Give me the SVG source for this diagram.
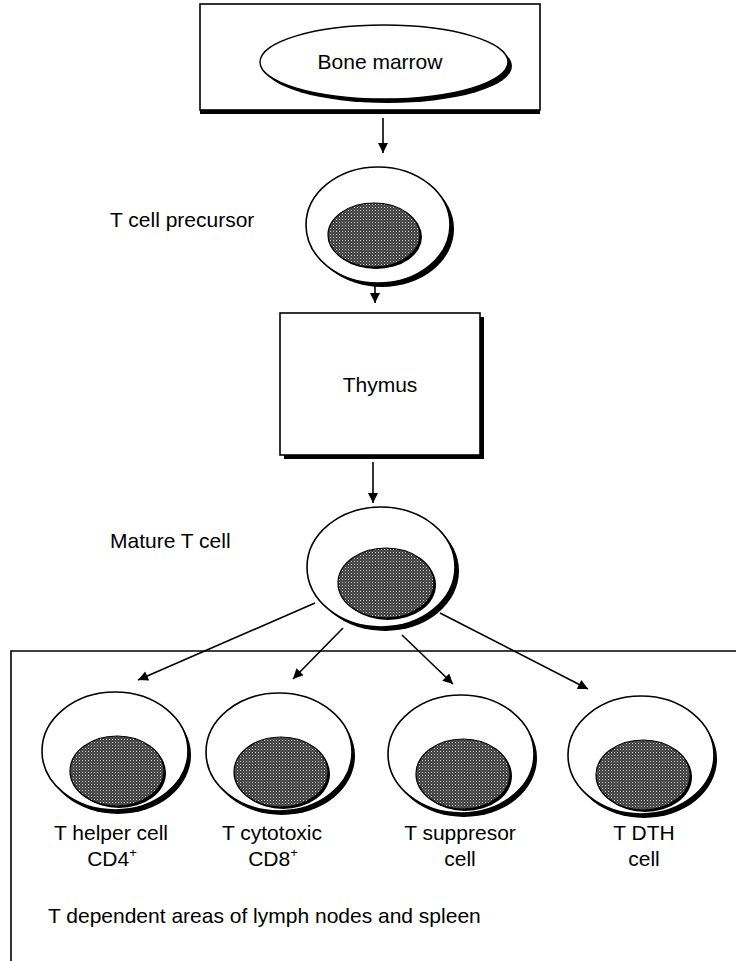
<svg xmlns="http://www.w3.org/2000/svg" width="736" height="961" viewBox="0 0 736 961">
  <defs>
    <!-- stippled fill for nuclei -->
    <pattern id="stipple" width="3" height="3" patternUnits="userSpaceOnUse">
      <rect width="3" height="3" fill="#3a3a3a"/>
      <rect x="0" y="0" width="1" height="1" fill="#d8d8d8"/>
      <rect x="1.5" y="1.5" width="1" height="1" fill="#9a9a9a"/>
    </pattern>
    <marker id="arrow" viewBox="0 0 10 10" refX="10" refY="5" markerWidth="14" markerHeight="10" markerUnits="userSpaceOnUse" orient="auto">
      <path d="M0,0 L10,5 L0,10 Z" fill="#000"/>
    </marker>
    <!-- reusable cell: outer body with drop shadow, nucleus with shadow -->
    <g id="cell">
      <ellipse cx="3" cy="4" rx="73" ry="59" fill="#000"/>
      <ellipse cx="0" cy="0" rx="73" ry="59" fill="#fff" stroke="#000" stroke-width="1.6"/>
      <ellipse cx="4" cy="22" rx="47" ry="35" fill="#000"/>
      <ellipse cx="2" cy="20" rx="47" ry="35" fill="url(#stipple)" stroke="#000" stroke-width="1.2"/>
    </g>
  </defs>
  <style>
    text { font-family: "Liberation Sans", Arial, sans-serif; font-size: 21px; fill: #000; }
    .c { text-anchor: middle; }
    .sup { font-size: 13px; }
    .conn line { stroke: #000; stroke-width: 1.6; marker-end: url(#arrow); }
  </style>

  <rect width="736" height="961" fill="#fff"/>

  <!-- Bone marrow box -->
  <g id="bone-marrow">
    <rect x="200" y="8" width="340" height="106" fill="#000"/>
    <rect x="200" y="4" width="340" height="106" fill="#fff" stroke="#000" stroke-width="1.6"/>
    <ellipse cx="388" cy="66" rx="124" ry="37" fill="#000"/>
    <ellipse cx="384" cy="62" rx="124" ry="37" fill="#fff" stroke="#000" stroke-width="1.4"/>
    <text class="c" x="380" y="69">Bone marrow</text>
  </g>

  <!-- T cell precursor -->
  <g id="t-cell-precursor">
    <ellipse cx="382" cy="229" rx="72" ry="58" fill="#000"/>
    <ellipse cx="378" cy="225" rx="72" ry="58" fill="#fff" stroke="#000" stroke-width="1.6"/>
    <ellipse cx="376" cy="237" rx="46" ry="32" fill="#000"/>
    <ellipse cx="374" cy="235" rx="46" ry="32" fill="url(#stipple)" stroke="#000" stroke-width="1.2"/>
    <text x="110" y="227">T cell precursor</text>
  </g>

  <!-- Thymus -->
  <g id="thymus">
    <rect x="284" y="317" width="200" height="142" fill="#000"/>
    <rect x="280" y="313" width="200" height="142" fill="#fff" stroke="#000" stroke-width="1.6"/>
    <text class="c" x="380" y="392">Thymus</text>
  </g>

  <!-- Mature T cell -->
  <g id="mature-t-cell">
    <ellipse cx="385" cy="571" rx="74" ry="60" fill="#000"/>
    <ellipse cx="381" cy="567" rx="74" ry="60" fill="#fff" stroke="#000" stroke-width="1.6"/>
    <ellipse cx="388" cy="585" rx="48" ry="35" fill="#000"/>
    <ellipse cx="386" cy="583" rx="48" ry="35" fill="url(#stipple)" stroke="#000" stroke-width="1.2"/>
    <text x="110" y="548">Mature T cell</text>
  </g>

  <!-- T dependent areas region -->
  <g id="lymph-region">
    <path d="M11,961 L11,651 L736,651" fill="none" stroke="#000" stroke-width="1.6"/>
    <text x="48" y="923">T dependent areas of lymph nodes and spleen</text>
  </g>

  <g id="t-helper">
    <use href="#cell" x="115" y="751"/>
    <text class="c" x="111" y="840">T helper cell</text>
    <text class="c" x="112" y="866">CD4<tspan class="sup" dy="-9">+</tspan></text>
  </g>
  <g id="t-cytotoxic">
    <use href="#cell" x="279" y="752"/>
    <text class="c" x="272" y="840">T cytotoxic</text>
    <text class="c" x="273" y="866">CD8<tspan class="sup" dy="-9">+</tspan></text>
  </g>
  <g id="t-suppresor">
    <use href="#cell" x="461" y="754"/>
    <text class="c" x="460" y="840">T suppresor</text>
    <text class="c" x="460" y="866">cell</text>
  </g>
  <g id="t-dth">
    <use href="#cell" x="641" y="755"/>
    <text class="c" x="644" y="840">T DTH</text>
    <text class="c" x="644" y="866">cell</text>
  </g>

  <!-- connectors -->
  <g id="connectors" class="conn">
    <line x1="383" y1="118" x2="383" y2="153"/>
    <line x1="375" y1="285" x2="375" y2="303"/>
    <line x1="373" y1="462" x2="373" y2="503"/>
    <line x1="315" y1="603" x2="138" y2="680"/>
    <line x1="343" y1="628" x2="293" y2="679"/>
    <line x1="402" y1="635" x2="453" y2="684"/>
    <line x1="440" y1="613" x2="588" y2="689"/>
  </g>
</svg>
